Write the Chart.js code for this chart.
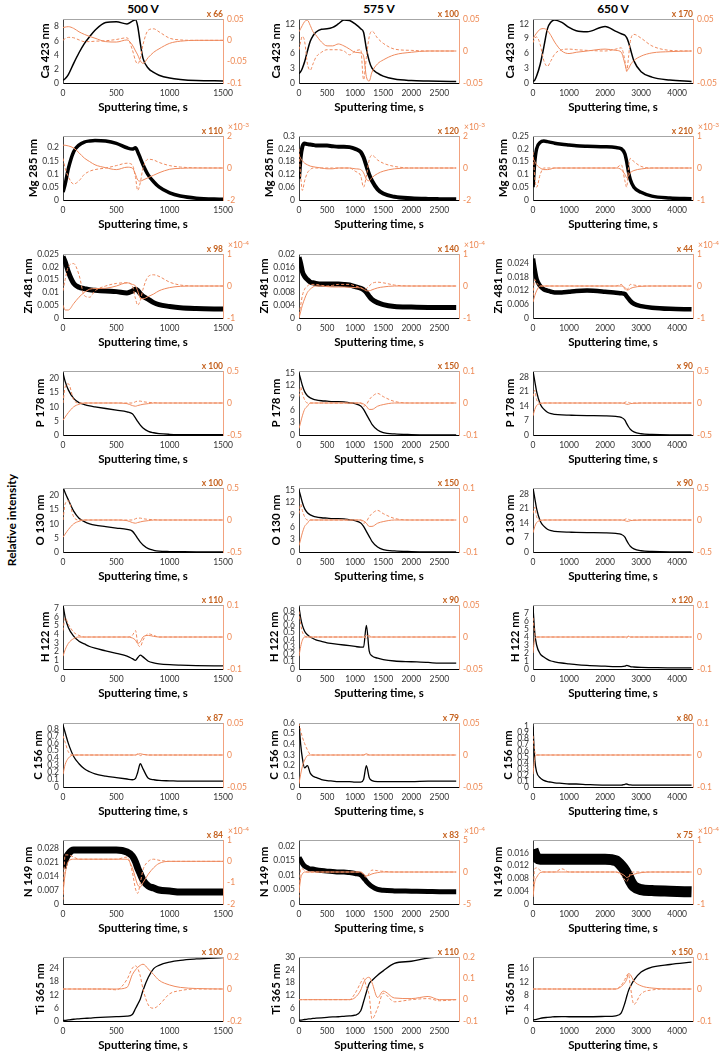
<!DOCTYPE html>
<html>
<head>
<meta charset="utf-8">
<script src="https://cdn.jsdelivr.net/npm/chart.js@4"></script>
<style>
  body { margin: 0; background: #fff; width: 720px; height: 1057px; overflow: hidden; position: relative; font-family: Lato, sans-serif; }
  canvas { position: absolute; }
  .volt { position: absolute; top: 1px; width: 160px; text-align: center; font: bold 12px Lato; color: #000; }
  .side { position: absolute; left: -58px; top: 512px; width: 140px; text-align: center; font: bold 12px Lato; line-height: 16px; transform: rotate(-90deg); }
</style>
</head>
<body>
<div class="volt" style="left:63px">500 V</div>
<div class="volt" style="left:299px">575 V</div>
<div class="volt" style="left:533px">650 V</div>
<div class="side">Relative intensity</div>
<script>
// sputtering time grids, s
const t500 = [0,20,50,100,150,200,250,300,400,500,600,650,680,700,725,750,800,850,900,1000,1100,1250,1500];
const t575 = [0,30,60,100,150,200,250,300,400,500,600,700,800,900,1000,1100,1150,1200,1250,1300,1400,1500,1700,2000,2300,2500,2800];
const t650 = [0,50,100,200,300,400,500,600,800,1000,1200,1500,2000,2300,2450,2550,2600,2650,2700,2800,3000,3300,3800,4400];

const voltages = ['500 V', '575 V', '650 V'];
const xMax = [1500, 2850, 4440];
const xTicks = [[0,500,1000,1500], [0,500,1000,1500,2000,2500], [0,1000,2000,3000,4000]];
const elements = ['Ca 423 nm','Mg 285 nm','Zn 481 nm','P 178 nm','O 130 nm','H 122 nm','C 156 nm','N 149 nm','Ti 365 nm'];

// left axis (intensity) ticks and tops
const leftTicks = [
  [[0,2,4,6,8], [0,3,6,9,12], [0,3,6,9,12]],
  [[0,0.05,0.1,0.15,0.2], [0,0.06,0.12,0.18,0.24,0.3], [0,0.05,0.1,0.15,0.2,0.25]],
  [[0,0.005,0.01,0.015,0.02,0.025], [0,0.004,0.008,0.012,0.016,0.02], [0,0.006,0.012,0.018,0.024]],
  [[0,5,10,15,20], [0,3,6,9,12,15], [0,7,14,21,28]],
  [[0,5,10,15,20], [0,3,6,9,12,15], [0,7,14,21,28]],
  [[0,1,2,3,4,5,6,7], [0,0.1,0.2,0.3,0.4,0.5,0.6,0.7,0.8], [0,1,2,3,4,5,6,7]],
  [[0,0.1,0.2,0.3,0.4,0.5,0.6,0.7,0.8], [0,0.1,0.2,0.3,0.4,0.5,0.6], [0,0.1,0.2,0.3,0.4,0.5,0.6,0.7,0.8,0.9,1]],
  [[0,0.007,0.014,0.021,0.028], [0,0.005,0.01,0.015,0.02], [0,0.004,0.008,0.012,0.016]],
  [[0,6,12,18,24], [0,6,12,18,24,30], [0,4,8,12,16]]
];
const leftMax = [
  [9.1, 13, 13], [0.245, 0.3, 0.25], [0.025, 0.02, 0.028],
  [22.7, 15.5, 31], [22.7, 15.5, 31], [7.4, 0.88, 8],
  [0.88, 0.6, 1.06], [0.032, 0.022, 0.02], [29.3, 30, 19.6]
];
// right axis (derivative) ticks, first and last are the bounds
const rightTicks = [
  [[-0.1,-0.05,0,0.05], [-0.05,0,0.05], [-0.05,0,0.05]],
  [[-2,0,2], [-2,0,2], [-1,0,1]],
  [[-1,0,1], [-1,0,1], [-1,0,1]],
  [[-0.5,0,0.5], [-0.1,0,0.1], [-0.5,0,0.5]],
  [[-0.5,0,0.5], [-0.1,0,0.1], [-0.5,0,0.5]],
  [[-0.1,0,0.1], [-0.05,0,0.05], [-0.1,0,0.1]],
  [[-0.05,0,0.05], [-0.05,0,0.05], [-0.1,0,0.1]],
  [[-2,-1,0,1], [-5,0,5], [-1,0,1]],
  [[-0.2,0,0.2], [-0.1,0,0.1,0.2], [-0.1,0,0.1]]
];
const multipliers = [
  [66,100,170], [110,120,210], [98,140,44], [100,150,90], [100,150,90],
  [110,90,120], [87,79,80], [84,83,75], [100,110,150]
];
const exponents = [
  ['','',''], ['-3','-3','-3'], ['-4','-4','-4'], ['','',''], ['','',''],
  ['','',''], ['','',''], ['-4','-4','-4'], ['','','']
];

// ---- Ca 423
const ca500 = [0.4,0.6,1.2,2.8,4.3,5.6,6.6,7.5,8.6,8.7,8.4,8.8,9.0,8.1,5.6,3.5,2.1,1.5,1.1,0.7,0.5,0.35,0.3];
const ca500Solid = [0.03,0.031,0.032,0.028,0.02,0.014,0.009,0.005,-0.003,-0.004,0.001,-0.011,-0.025,-0.034,-0.048,-0.054,-0.04,-0.028,-0.02,-0.007,-0.002,0,0];
const ca500Dash = [0,0.004,0.007,0.006,0.001,-0.003,-0.003,-0.002,-0.001,0.002,0.006,-0.022,-0.048,-0.055,-0.042,-0.01,0.024,0.027,0.02,0.005,0.001,0,0];
const ca575 = [1.9,2.3,3.0,4.3,6.5,8.5,9.6,10.3,10.9,11.0,11.3,12.0,12.8,12.7,12.0,11.0,10.3,7.0,4.5,3.0,2.0,1.4,0.8,0.5,0.4,0.35,0.3];
const ca575Solid = [0.03,0.035,0.04,0.046,0.048,0.04,0.03,0.025,0.014,0.008,0.008,0.011,0.008,0.003,-0.002,-0.003,-0.008,-0.04,-0.047,-0.033,-0.02,-0.014,-0.006,-0.002,0,0,0];
const ca575Dash = [0.002,0.015,0.023,0.015,-0.02,-0.03,-0.02,-0.01,-0.002,0.002,0.002,0.002,0,-0.006,0,0.002,-0.045,-0.01,0.022,0.031,0.02,0.012,0.003,0.001,0,0,0];
const ca650 = [0.3,0.6,1.4,3.8,7.3,11.0,12.4,12.8,12.3,11.3,10.6,10.4,11.5,10.5,10.0,9.7,9.2,8.3,7.0,4.5,2.3,1.2,0.6,0.3];
const ca650Solid = [0.019,0.024,0.028,0.034,0.035,0.032,0.024,0.014,0,-0.004,-0.002,0,0.003,0.001,-0.002,-0.02,-0.03,-0.028,-0.022,-0.015,-0.008,-0.003,-0.001,0];
const ca650Dash = [0.013,0.02,0.022,0.01,-0.015,-0.024,-0.015,-0.005,0.002,0.003,0.002,0.001,0,0.003,0.005,-0.015,-0.032,-0.01,0.015,0.026,0.02,0.008,0.001,0];

// ---- Mg 285
const mg500 = [0.03,0.06,0.12,0.185,0.21,0.222,0.226,0.228,0.226,0.217,0.2,0.195,0.2,0.185,0.16,0.135,0.095,0.07,0.05,0.027,0.015,0.007,0.003];
const mg500Solid = [1.43,1.42,1.38,1.25,0.95,0.62,0.4,0.2,0.02,-0.1,0.05,0,-0.4,-0.75,-0.82,-0.75,-0.6,-0.45,-0.3,-0.08,-0.02,0,0];
const mg500Dash = [0.6,0,-0.55,-1.0,-0.8,-0.4,-0.2,-0.1,0,0.15,0.3,0.2,-0.6,-1.4,-0.9,0,0.55,0.5,0.35,0.15,0.06,0.01,0];
const mg575 = [0.1,0.2,0.25,0.265,0.262,0.26,0.258,0.256,0.255,0.255,0.252,0.25,0.25,0.248,0.24,0.225,0.2,0.16,0.12,0.09,0.05,0.03,0.015,0.008,0.005,0.004,0.003];
const mg575Solid = [0.8,0.6,0.45,0.3,0.2,0.12,0.08,0.05,0,-0.05,-0.05,0,0,0,-0.05,-0.1,-0.3,-0.7,-0.8,-0.6,-0.35,-0.2,-0.05,0,0,0,0];
const mg575Dash = [1.2,-0.5,-1.4,-0.8,-0.3,-0.1,0,0,0,0,0,0,0,0,-0.2,-0.5,-1.2,-0.5,0.5,0.8,0.5,0.3,0.1,0,0,0,0];
const mg650 = [0.05,0.15,0.2,0.225,0.23,0.228,0.225,0.222,0.218,0.215,0.212,0.21,0.208,0.205,0.2,0.18,0.15,0.11,0.08,0.05,0.03,0.015,0.008,0.005];
const mg650Solid = [0.3,0.2,0.1,0,-0.05,-0.05,-0.03,0,0,0,0,0,0,0,-0.05,-0.2,-0.3,-0.25,-0.15,-0.08,-0.03,0,0,0];
const mg650Dash = [0.5,-0.3,-0.6,-0.2,0,0,0,0,0,0,0,0,0,0,0.1,-0.4,-0.6,0,0.3,0.2,0.05,0,0,0];

// ---- Zn 481
const zn500 = [0.024,0.022,0.018,0.0135,0.012,0.0115,0.011,0.0108,0.0105,0.0103,0.0098,0.0105,0.0112,0.0108,0.0095,0.0085,0.0073,0.006,0.0052,0.0045,0.004,0.0037,0.0035];
const zn500Solid = [-0.6,-0.75,-0.75,-0.55,-0.35,-0.2,-0.1,-0.08,-0.07,0,0.1,0.05,0,-0.15,-0.38,-0.4,-0.33,-0.25,-0.15,-0.05,-0.01,0,0];
const zn500Dash = [-0.15,0.2,0.6,0.7,0.35,-0.3,-0.35,-0.15,0,0.08,0.1,0,-0.4,-0.6,-0.45,-0.1,0.3,0.35,0.3,0.12,0.03,0,0];
const zn575 = [0.019,0.017,0.0145,0.013,0.012,0.0112,0.011,0.0108,0.0106,0.0106,0.0106,0.0106,0.0105,0.0103,0.0098,0.0093,0.0088,0.008,0.0068,0.0058,0.0048,0.0042,0.0036,0.0034,0.0033,0.0033,0.0033];
const zn575Solid = [-1,-0.8,-0.6,-0.4,-0.2,-0.1,-0.03,0,0,-0.02,-0.03,-0.03,-0.03,-0.04,-0.05,-0.06,-0.1,-0.15,-0.15,-0.12,-0.06,-0.03,0,0,0,0,0];
const zn575Dash = [-0.9,-0.6,-0.3,-0.1,0,0.05,0.05,0.05,0.02,0,0.02,0.05,0.05,0.05,0,-0.05,-0.1,-0.08,0,0.08,0.12,0.1,0.03,0,0,0,0];
const zn650 = [0.026,0.021,0.017,0.014,0.0125,0.012,0.0115,0.0112,0.0112,0.0115,0.0118,0.012,0.0115,0.011,0.0108,0.0105,0.0095,0.0085,0.0075,0.0062,0.0052,0.0045,0.004,0.0038];
const zn650Solid = [-0.5,-0.3,-0.15,0,0,0,0,0,0,0,0,0,0,0,0,-0.05,-0.1,-0.12,-0.08,-0.04,-0.01,0,0,0];
const zn650Dash = [-0.3,0.2,0.1,0,0,0,0,0,0,0,0,0,0,0,0.05,-0.1,-0.15,-0.05,0.05,0.03,0,0,0,0];

// ---- P 178
const p500 = [22,19,16,13,11.5,10.8,10.3,10,9.4,8.8,8.2,7.5,6,4.8,3.5,2.5,1.3,0.8,0.5,0.25,0.15,0.1,0.1];
const p500Solid = [-0.27,-0.22,-0.15,-0.06,-0.02,0,0,0,0,0,-0.01,-0.04,-0.05,-0.04,-0.03,-0.02,-0.01,0,0,0,0,0,0];
const p500Dash = [0,0.25,0.3,0.05,0,0,0,0,0,0,0,0,0.02,0.03,0.03,0.02,0.01,0.005,0,0,0,0,0];
const p575 = [15,13.5,12,10.5,9.5,9,8.7,8.5,8.3,8.2,8.1,8.1,8,7.8,7.6,7,6.2,5,3.8,2.6,1.2,0.6,0.25,0.1,0.05,0.05,0.05];
const p575Solid = [-0.08,-0.06,-0.04,-0.02,-0.01,0,0,0,0,0,0,0,0,0,0,0,-0.003,-0.01,-0.02,-0.02,-0.01,-0.005,0,0,0,0,0];
const p575Dash = [0.02,0.05,0.03,0.01,0,0,0,0,0,0,0,0,0,0,0,0,-0.01,-0.005,0.01,0.02,0.03,0.02,0.005,0,0,0,0];
const p650 = [31,26,21,15,12.5,11,10.3,10,9.7,9.6,9.5,9.4,9.3,9,8.5,7.2,5.5,4,2.8,1.5,0.6,0.25,0.1,0.1];
const p650Solid = [-0.2,-0.1,-0.04,-0.01,0,0,0,0,0,0,0,0,0,0,0,-0.01,-0.02,-0.02,-0.01,-0.005,0,0,0,0];
const p650Dash = [0.1,0.2,0.05,0,0,0,0,0,0,0,0,0,0,0,0,0.01,0.02,0.01,0,0,0,0,0,0];

// ---- O 130
const o500 = [23,21,18.5,14.5,12,10.8,10,9.5,9,8.5,8,7.4,6,4.8,3.5,2.5,1.2,0.6,0.3,0.15,0.1,0.05,0.05];
const o500Solid = [-0.27,-0.22,-0.15,-0.06,-0.02,0,0,0,0,0,-0.01,-0.04,-0.05,-0.04,-0.03,-0.02,-0.01,0,0,0,0,0,0];
const o500Dash = [0,0.25,0.3,0.05,0,0,0,0,0,0,0,0,0.02,0.03,0.03,0.02,0.01,0.005,0,0,0,0,0];
const o575 = [15,13.5,12,10.5,9.5,9,8.7,8.5,8.3,8.2,8.1,8.1,8,7.8,7.6,7,6.2,5,3.8,2.6,1.2,0.6,0.25,0.1,0.05,0.05,0.05];
const o575Solid = [-0.08,-0.06,-0.04,-0.02,-0.01,0,0,0,0,0,0,0,0,0,0,0,-0.003,-0.01,-0.02,-0.02,-0.01,-0.005,0,0,0,0,0];
const o575Dash = [0.02,0.05,0.03,0.01,0,0,0,0,0,0,0,0,0,0,0,0,-0.01,-0.005,0.01,0.02,0.03,0.02,0.005,0,0,0,0];
const o650 = [31,26,21,15,12.5,11,10.3,10,9.7,9.6,9.5,9.4,9.3,9,8.5,7.2,5.5,4,2.8,1.5,0.6,0.25,0.1,0.1];
const o650Solid = [-0.2,-0.1,-0.04,-0.01,0,0,0,0,0,0,0,0,0,0,0,-0.01,-0.02,-0.02,-0.01,-0.005,0,0,0,0];
const o650Dash = [0.1,0.2,0.05,0,0,0,0,0,0,0,0,0,0,0,0,0.01,0.02,0.01,0,0,0,0,0,0];

// ---- H 122
const h500 = [7.4,6,4.8,3.8,3.2,2.9,2.6,2.4,2.1,1.8,1.5,1.2,1.0,1.3,1.6,1.4,0.9,0.7,0.6,0.5,0.45,0.4,0.35];
const h500Solid = [-0.06,-0.04,-0.02,-0.005,0,0,0,0,0,0,0,-0.003,-0.01,-0.02,-0.015,0,0.005,0.002,0,0,0,0,0];
const h500Dash = [0.02,0.06,0.04,0.015,0.005,0,0,0,0,0,0,0.005,0.02,-0.02,-0.03,-0.01,0.01,0.005,0,0,0,0,0];
const h575 = [0.85,0.7,0.6,0.52,0.47,0.44,0.42,0.4,0.38,0.36,0.35,0.34,0.33,0.32,0.31,0.3,0.3,0.6,0.25,0.18,0.15,0.13,0.11,0.1,0.09,0.08,0.08];
const h575Solid = [-0.03,-0.015,-0.005,0,0,0,0,0,0,0,0,0,0,0,0,0,0,0.003,0,0,0,0,0,0,0,0,0];
const h575Dash = [0.04,0.02,0.008,0.002,0,0,0,0,0,0,0,0,0,0,0,0,0,-0.002,0.002,0,0,0,0,0,0,0,0];
const h650 = [7.8,4.5,3,1.9,1.5,1.2,1,0.9,0.75,0.65,0.55,0.45,0.35,0.3,0.3,0.35,0.45,0.4,0.3,0.25,0.2,0.18,0.15,0.15];
const h650Solid = [-0.05,-0.005,0,0,0,0,0,0,0,0,0,0,0,0,0,0,0,0.002,0,0,0,0,0,0];
const h650Dash = [0.06,0.01,0,0,0,0,0,0,0,0,0,0,0,0,0,0,-0.003,0.003,0,0,0,0,0,0];

// ---- C 156
const c500 = [0.85,0.75,0.6,0.42,0.32,0.25,0.21,0.18,0.15,0.13,0.11,0.1,0.12,0.2,0.32,0.25,0.12,0.1,0.09,0.085,0.08,0.08,0.08];
const c500Solid = [-0.03,-0.015,-0.005,0,0,0,0,0,0,0,0,0,0,0.001,0.002,0.001,0,0,0,0,0,0,0];
const c500Dash = [0.03,0.02,0.005,0,0,0,0,0,0,0,0,0,0,0.002,-0.001,0.001,0,0,0,0,0,0,0];
const c575 = [0.6,0.4,0.27,0.18,0.2,0.13,0.1,0.09,0.07,0.06,0.055,0.05,0.05,0.05,0.045,0.045,0.07,0.2,0.09,0.06,0.05,0.05,0.05,0.05,0.055,0.055,0.055];
const c575Solid = [-0.045,-0.03,-0.018,-0.008,-0.001,0,0,0,0,0,0,0,0,0,0,0,0,0.002,0,0,0,0,0,0,0,0,0];
const c575Dash = [0.05,0.038,0.028,0.018,0.008,0.001,0,0,0,0,0,0,0,0,0,0,0,0,0,0,0,0,0,0,0,0,0];
const c650 = [1.0,0.45,0.25,0.15,0.11,0.09,0.08,0.07,0.06,0.05,0.05,0.04,0.03,0.03,0.03,0.045,0.05,0.04,0.035,0.03,0.03,0.03,0.03,0.03];
const c650Solid = [-0.06,-0.01,0,0,0,0,0,0,0,0,0,0,0,0,0,0,0,0,0,0,0,0,0,0];
const c650Dash = [0.06,0.01,0,0,0,0,0,0,0,0,0,0,0,0,0,0,0,0,0,0,0,0,0,0];

// ---- N 149
const n500 = [0.018,0.022,0.025,0.027,0.027,0.027,0.027,0.027,0.027,0.027,0.026,0.024,0.021,0.018,0.015,0.012,0.009,0.008,0.007,0.0065,0.006,0.006,0.006];
const n500Solid = [-1.5,-0.6,0,0.1,0.1,0.1,0.1,0.1,0.1,0.1,0.1,-0.3,-0.8,-1.1,-1.2,-1.0,-0.6,-0.3,-0.1,0,0,0,0];
const n500Dash = [-1.8,0.3,0.3,0.2,0.1,0.1,0.1,0.1,0.1,0.1,0.2,-0.5,-1.3,-1.5,-1.0,-0.4,0,0.1,0.05,0,0,0,0];
const n575 = [0.016,0.015,0.014,0.013,0.0125,0.012,0.012,0.0118,0.0115,0.0113,0.0112,0.011,0.011,0.0108,0.0105,0.01,0.009,0.0078,0.0068,0.006,0.005,0.0047,0.0045,0.0044,0.0043,0.0042,0.0042];
const n575Solid = [-3,-1,-0.3,0,0,0,0,0,0,0,0,0,0,0,0,0,-0.3,-0.6,-0.5,-0.3,-0.1,0,0,0,0,0,0];
const n575Dash = [-4,0.5,0.5,0.2,0,0,0,0,0,0,0,0,0,0,0,0,-0.5,-0.8,-0.2,0.3,0.2,0.1,0,0,0,0,0];
const n650 = [0.017,0.0155,0.0145,0.014,0.014,0.014,0.014,0.014,0.014,0.014,0.014,0.014,0.014,0.0135,0.012,0.0105,0.0095,0.0085,0.0072,0.0055,0.0045,0.0042,0.004,0.0038];
const n650Solid = [-0.78,-0.3,-0.17,-0.02,0,0,0,0,0,0,0,0,0,0,-0.05,-0.12,-0.17,-0.15,-0.1,-0.07,-0.02,0,0,0];
const n650Dash = [-0.7,0.1,0.13,0.05,0,0,0,0,0.1,0,0,0,0,0,-0.1,-0.25,-0.3,-0.2,-0.05,0,0,0,0,0];

// ---- Ti 365
const ti500 = [0.2,0.3,0.5,0.8,1.0,1.2,1.3,1.5,1.8,2.0,2.2,3.0,5.7,7.6,10.1,14,20,24,25.5,27,27.8,28.4,29];
const ti500Solid = [0,0,0,0,0,0,0,0,0,0,0.01,0.09,0.12,0.135,0.148,0.155,0.125,0.09,0.055,0.025,0.01,0.003,0];
const ti500Dash = [0,0,0,0,0,0,0,0,0,-0.005,0.06,0.13,0.145,0.13,0.08,0,-0.1,-0.12,-0.1,-0.03,-0.01,0,0];
const ti575 = [0.3,0.4,0.5,0.7,0.9,1.0,1.2,1.3,1.5,1.7,1.9,2.0,2.2,2.4,2.7,4.8,9,13.5,17.5,19,21.5,23.5,27,28,29.5,30,30];
const ti575Solid = [0,0,0,0,0,0,0,0,0,0,0,0,0,0,0.01,0.045,0.08,0.1,0.105,0.08,0.01,0.04,0.008,0.005,0.015,0,0];
const ti575Dash = [0,0,0,0,0,0,0,0,0,0,0,0,0,0,0.03,0.08,0.1,0.06,0.02,-0.09,-0.04,0.03,-0.01,0,0.005,-0.005,0];
const ti650 = [0.3,0.4,0.5,0.8,1.0,1.1,1.2,1.3,1.35,1.3,1.3,1.3,1.4,1.6,2.5,5.5,7.5,9.3,10.5,12.5,15,16.5,17.3,18];
const ti650Solid = [0,0,0,0,0,0,0,0,0,0,0,0,0,0,0.008,0.02,0.03,0.048,0.045,0.025,0.01,0.003,0,0];
const ti650Dash = [0,0,0,0,0,0,0,0,0,0,0,0,0,0,0.012,0.03,0.042,0.048,0.01,-0.048,-0.015,-0.003,0,0];

const times = [t500, t575, t650];
const series = [
  [[ca500, ca500Solid, ca500Dash], [ca575, ca575Solid, ca575Dash], [ca650, ca650Solid, ca650Dash]],
  [[mg500, mg500Solid, mg500Dash], [mg575, mg575Solid, mg575Dash], [mg650, mg650Solid, mg650Dash]],
  [[zn500, zn500Solid, zn500Dash], [zn575, zn575Solid, zn575Dash], [zn650, zn650Solid, zn650Dash]],
  [[p500, p500Solid, p500Dash], [p575, p575Solid, p575Dash], [p650, p650Solid, p650Dash]],
  [[o500, o500Solid, o500Dash], [o575, o575Solid, o575Dash], [o650, o650Solid, o650Dash]],
  [[h500, h500Solid, h500Dash], [h575, h575Solid, h575Dash], [h650, h650Solid, h650Dash]],
  [[c500, c500Solid, c500Dash], [c575, c575Solid, c575Dash], [c650, c650Solid, c650Dash]],
  [[n500, n500Solid, n500Dash], [n575, n575Solid, n575Dash], [n650, n650Solid, n650Dash]],
  [[ti500, ti500Solid, ti500Dash], [ti575, ti575Solid, ti575Dash], [ti650, ti650Solid, ti650Dash]]
];

// ---- styles / layout
const PLOT_LEFT = [63, 299, 533];
const PLOT_TOP0 = 19, ROW_STEP = 117.25;
const LEFT_W = 66, RIGHT_W = 38, BOTTOM_H = 44, TOP_PAD = 16;
const ORANGE = '#EF8A5E', ORANGE_TXT = '#EE8A55', ORANGE_DARK = '#C5621F';
const TICK_FONT = { family: 'Lato', size: 8.5 };
// noisy signals are drawn as a thick band
const blackWidth = [
  [1.5,1.5,1.5], [3.5,4,3.5], [5,5,4.5], [1.3,1.3,1.3], [1.3,1.3,1.3],
  [1.3,1.3,1.3], [1.3,1.3,1.3], [7,5,11], [1.3,1.3,1.3]
];

const fmt = v => String(+Number(v).toFixed(6));

const panelDeco = {
  id: 'panelDeco',
  afterDraw(chart, args, opts) {
    const { ctx, chartArea: a, scales } = chart;
    ctx.save();
    // top frame line
    ctx.strokeStyle = '#a6a6a6';
    ctx.lineWidth = 1;
    ctx.beginPath();
    ctx.moveTo(a.left, a.top + 0.5);
    ctx.lineTo(a.right, a.top + 0.5);
    ctx.stroke();

    // multiplier over the top right corner
    ctx.font = 'bold 8.5px Lato';
    ctx.fillStyle = ORANGE_DARK;
    ctx.textAlign = 'right';
    ctx.textBaseline = 'bottom';
    ctx.fillText('x ' + opts.mult, a.right, a.top - 0.5);

    // exponent of the right axis
    if (opts.exp) {
      ctx.font = '8.5px Lato';
      ctx.fillStyle = ORANGE_TXT;
      ctx.textAlign = 'left';
      ctx.fillText('\u00d710', a.right + 5, a.top - 4);
      const w = ctx.measureText('\u00d710').width;
      ctx.font = '6.5px Lato';
      ctx.fillText(opts.exp, a.right + 5 + w, a.top - 8);
    }

    // element label, hugging the tick labels
    ctx.font = TICK_FONT.size + 'px ' + TICK_FONT.family;
    let tw = 0;
    scales.y.ticks.forEach(t => { tw = Math.max(tw, ctx.measureText(String(t.label)).width); });
    ctx.translate(a.left - 4 - tw - 9, (a.top + a.bottom) / 2);
    ctx.rotate(-Math.PI / 2);
    ctx.font = 'bold 11.5px Lato';
    ctx.fillStyle = '#000';
    ctx.textAlign = 'center';
    ctx.textBaseline = 'middle';
    ctx.fillText(opts.name, 0, 0);
    ctx.restore();
  }
};

function toPoints(t, v) {
  return t.map((x, i) => ({ x: x, y: v[i] }));
}

function makePanel(r, c) {
  const [black, solid, dash] = series[r][c];
  const t = times[c];
  const rt = rightTicks[r][c];
  const cv = document.createElement('canvas');
  const w = LEFT_W + 160 + RIGHT_W, h = TOP_PAD + 64 + BOTTOM_H;
  cv.width = w; cv.height = h;
  cv.style.left = (PLOT_LEFT[c] - LEFT_W) + 'px';
  cv.style.top = (PLOT_TOP0 + r * ROW_STEP - TOP_PAD) + 'px';
  cv.style.width = w + 'px'; cv.style.height = h + 'px';
  document.body.appendChild(cv);

  new Chart(cv, {
    type: 'line',
    data: {
      datasets: [
        { data: toPoints(t, solid), yAxisID: 'y2', borderColor: ORANGE, borderWidth: 1, order: 1 },
        { data: toPoints(t, dash), yAxisID: 'y2', borderColor: ORANGE, borderWidth: 1, borderDash: [3, 2], order: 2 },
        { data: toPoints(t, black), yAxisID: 'y', borderColor: '#000', borderWidth: blackWidth[r][c], order: 3 }
      ]
    },
    options: {
      responsive: false,
      animation: false,
      events: [],
      layout: { padding: { top: TOP_PAD } },
      elements: {
        point: { radius: 0 },
        line: { cubicInterpolationMode: 'monotone', borderJoinStyle: 'round', borderCapStyle: 'butt' }
      },
      plugins: {
        legend: { display: false },
        tooltip: { enabled: false },
        panelDeco: { name: elements[r], mult: multipliers[r][c], exp: exponents[r][c] }
      },
      scales: {
        x: {
          type: 'linear', min: 0, max: xMax[c],
          afterBuildTicks: s => { s.ticks = xTicks[c].map(v => ({ value: v })); },
          afterFit: s => { s.height = BOTTOM_H; },
          grid: { display: false, drawTicks: false },
          border: { color: '#000', width: 1 },
          ticks: { padding: 5, font: TICK_FONT, color: '#333', maxRotation: 0, autoSkip: false, callback: fmt },
          title: { display: true, text: 'Sputtering time, s', color: '#000',
                   font: { family: 'Lato', size: 11.5, weight: 'bold' }, padding: { top: 0, bottom: 13 } }
        },
        y: {
          position: 'left', min: 0, max: leftMax[r][c],
          afterBuildTicks: s => { s.ticks = leftTicks[r][c].map(v => ({ value: v })); },
          afterFit: s => { s.width = LEFT_W; },
          grid: { display: false, drawTicks: false },
          border: { color: '#404040', width: 1 },
          ticks: { padding: 4, font: TICK_FONT, color: '#333', autoSkip: false, callback: fmt }
        },
        y2: {
          position: 'right', min: rt[0], max: rt[rt.length - 1],
          afterBuildTicks: s => { s.ticks = rt.map(v => ({ value: v })); },
          afterFit: s => { s.width = RIGHT_W; },
          grid: { display: false, drawTicks: false },
          border: { color: '#F2A27F', width: 1 },
          ticks: { padding: 4, font: TICK_FONT, color: ORANGE_TXT, autoSkip: false, callback: fmt }
        }
      }
    },
    plugins: [panelDeco]
  });
}

series.forEach((row, r) => row.forEach((s, c) => makePanel(r, c)));
</script>
</body>
</html>
